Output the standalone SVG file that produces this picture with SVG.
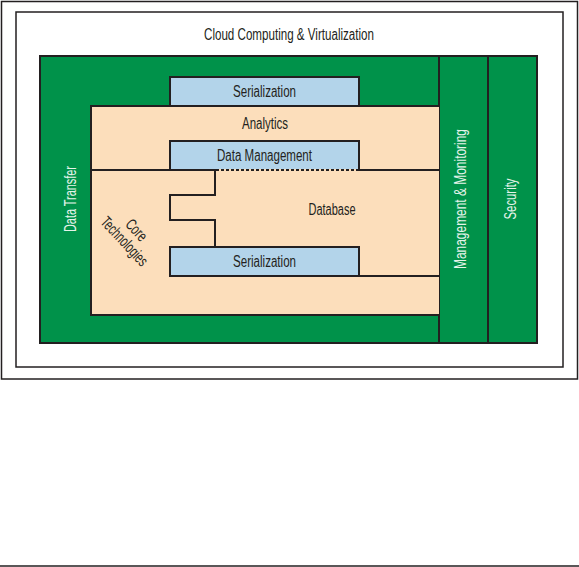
<svg xmlns="http://www.w3.org/2000/svg" width="579" height="567" viewBox="0 0 579 567">
<style>
  .frame { fill: #ffffff; stroke: #231f20; stroke-width: 1.5; }
  .green { fill: #00924a; stroke: #231f20; stroke-width: 2; }
  .tan { fill: #fcdebb; stroke: none; }
  .blue { fill: #b3d4ea; stroke: #231f20; stroke-width: 2; }
  .edge { fill: none; stroke: #231f20; stroke-width: 2; }
  .dash { fill: none; stroke: #231f20; stroke-width: 2; stroke-dasharray: 3 2; }
  .lbl { font-family: "Liberation Sans", Arial, sans-serif; font-size: 16px; fill: #231f20; text-anchor: middle; }
  .wlbl { font-family: "Liberation Sans", Arial, sans-serif; font-size: 16px; fill: #e6f4ea; text-anchor: middle; }
</style>
<rect x="0" y="0" width="579" height="567" fill="#ffffff"/>
<g id="outer-frame">
  <rect class="frame" x="1.5" y="1.5" width="576" height="377.5"/>
</g>
<g id="cloud">
  <rect class="frame" x="16" y="12" width="547" height="355"/>
  <text class="lbl" x="289" y="40" textLength="170" lengthAdjust="spacingAndGlyphs">Cloud Computing &amp; Virtualization</text>
</g>
<g id="data-transfer">
  <rect class="green" x="40" y="56" width="399" height="287"/>
  <text class="wlbl" transform="translate(75.5,199) rotate(-90)" textLength="66" lengthAdjust="spacingAndGlyphs">Data Transfer</text>
</g>
<g id="management-monitoring">
  <rect class="green" x="439" y="56" width="49" height="287"/>
  <text class="wlbl" transform="translate(466,199) rotate(-90)" textLength="140" lengthAdjust="spacingAndGlyphs">Management &amp; Monitoring</text>
</g>
<g id="security">
  <rect class="green" x="488" y="56" width="49" height="287"/>
  <text class="wlbl" transform="translate(516,199) rotate(-90)" textLength="41" lengthAdjust="spacingAndGlyphs">Security</text>
</g>
<g id="serialization-top">
  <rect class="blue" x="170" y="77" width="189" height="29"/>
  <text class="lbl" x="264.5" y="97" textLength="63" lengthAdjust="spacingAndGlyphs">Serialization</text>
</g>
<g id="analytics">
  <rect class="tan" x="91" y="106" width="348" height="64"/>
  <polyline class="edge" points="439,106 91,106 91,170"/>
  <text class="lbl" x="265" y="129" textLength="46" lengthAdjust="spacingAndGlyphs">Analytics</text>
</g>
<g id="core-technologies">
  <rect class="tan" x="91" y="170" width="348" height="145"/>
  <polyline class="edge" points="91,169 91,315 439,315"/>
  <g transform="translate(120.5,245) rotate(47)">
    <text class="lbl" x="0" y="-16.5" textLength="24" lengthAdjust="spacingAndGlyphs">Core</text>
    <text class="lbl" x="0" y="0" textLength="61" lengthAdjust="spacingAndGlyphs">Technologies</text>
  </g>
</g>
<g id="data-management">
  <rect class="blue" x="170" y="141" width="189" height="29"/>
  <text class="lbl" x="264.5" y="161" textLength="95" lengthAdjust="spacingAndGlyphs">Data Management</text>
</g>
<g id="database">
  <line class="edge" x1="91" y1="170" x2="170" y2="170"/>
  <line class="edge" x1="359" y1="170" x2="440" y2="170"/>
  <rect x="216" y="169" width="142" height="2" fill="#fcdebb"/>
  <line class="dash" x1="216" y1="170" x2="359" y2="170"/>
  <polyline class="edge" points="215,170 215,195 170,195 170,220 215,220 215,247"/>
  <line class="edge" x1="359" y1="276" x2="440" y2="276"/>
  <text class="lbl" x="332" y="215" textLength="47" lengthAdjust="spacingAndGlyphs">Database</text>
</g>
<g id="serialization-bottom">
  <rect class="blue" x="170" y="247" width="189" height="29"/>
  <text class="lbl" x="264.5" y="267" textLength="63" lengthAdjust="spacingAndGlyphs">Serialization</text>
</g>
<g id="connectors"></g>
<line x1="0" y1="566" x2="579" y2="566" stroke="#231f20" stroke-width="1.5"/>
</svg>
